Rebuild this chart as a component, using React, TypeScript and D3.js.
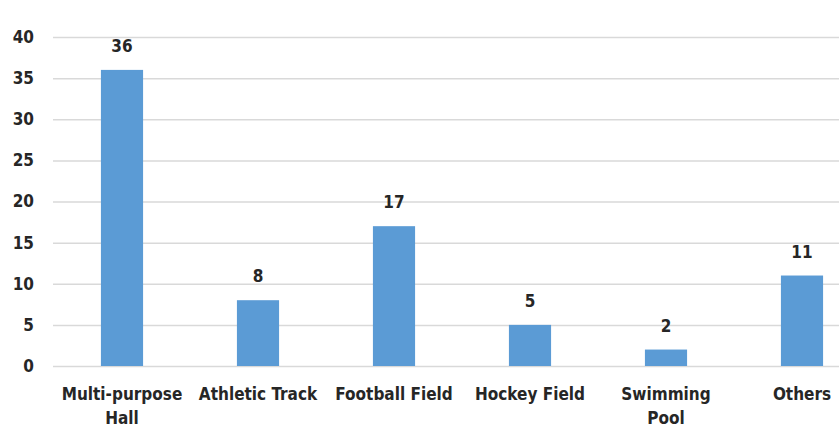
import React, { useEffect, useRef } from 'react';
import * as d3 from 'd3';

const categories = ['Multi-purpose\nHall', 'Athletic Track', 'Football Field', 'Hockey Field', 'Swimming\nPool', 'Others'];
const counts = [36, 8, 17, 5, 2, 11];
const yTicks = [0, 5, 10, 15, 20, 25, 30, 35, 40];

const W = 839;
const H = 442;

export default function App() {
  const ref = useRef<SVGSVGElement | null>(null);

  useEffect(() => {
    if (!ref.current) return;
    const svg = d3.select(ref.current);
    svg.selectAll('*').remove();

    const font = '"Liberation Sans Narrow", "DejaVu Sans Condensed", Arial, sans-serif';

    // plot area runs past the right edge, the original is cropped
    const x = d3.scaleBand<string>().domain(categories).range([54, 870]).paddingInner(0.69).paddingOuter(0.345);
    const y = d3.scaleLinear().domain([0, 40]).range([366, 37]);

    const g = svg.append('g');

    g.selectAll('line.grid')
      .data(yTicks)
      .enter().append('line')
      .attr('class', 'grid')
      .attr('x1', 53)
      .attr('x2', W)
      .attr('y1', d => y(d) + 0.5)
      .attr('y2', d => y(d) + 0.5)
      .attr('stroke', '#d9d9d9')
      .attr('stroke-width', 1.5);

    g.selectAll('text.ytick')
      .data(yTicks)
      .enter().append('text')
      .attr('class', 'ytick')
      .attr('x', 34)
      .attr('y', d => y(d))
      .attr('dy', '0.35em')
      .attr('text-anchor', 'end')
      .style('font', `bold 17px ${font}`)
      .attr('fill', '#262626')
      .text(d => d);

    const bars = g.selectAll('g.bar')
      .data(categories.map((c, i) => ({ c, v: counts[i] })))
      .enter().append('g')
      .attr('class', 'bar');

    bars.append('rect')
      .attr('x', d => x(d.c)!)
      .attr('width', x.bandwidth())
      .attr('y', d => y(d.v))
      .attr('height', d => y(0) - y(d.v))
      .attr('fill', '#5b9bd5');

    bars.append('text')
      .attr('x', d => x(d.c)! + x.bandwidth() / 2)
      .attr('y', d => y(d.v) - 18)
      .attr('text-anchor', 'middle')
      .style('font', `bold 17px ${font}`)
      .attr('fill', '#262626')
      .text(d => d.v);

    const lab = bars.append('text')
      .attr('x', d => x(d.c)! + x.bandwidth() / 2)
      .attr('y', 400)
      .attr('text-anchor', 'middle')
      .style('font', `bold 17px ${font}`)
      .attr('fill', '#262626');

    lab.selectAll('tspan')
      .data(d => d.c.split('\n').map(s => ({ s, cx: x(d.c)! + x.bandwidth() / 2 })))
      .enter().append('tspan')
      .attr('x', d => d.cx)
      .attr('dy', (_d, i) => (i === 0 ? 0 : 24))
      .text(d => d.s);
  }, []);

  return (
    <svg ref={ref} width={W} height={H} style={{ position: 'fixed', left: 0, top: 0, background: 'white', display: 'block' }} />
  );
}
